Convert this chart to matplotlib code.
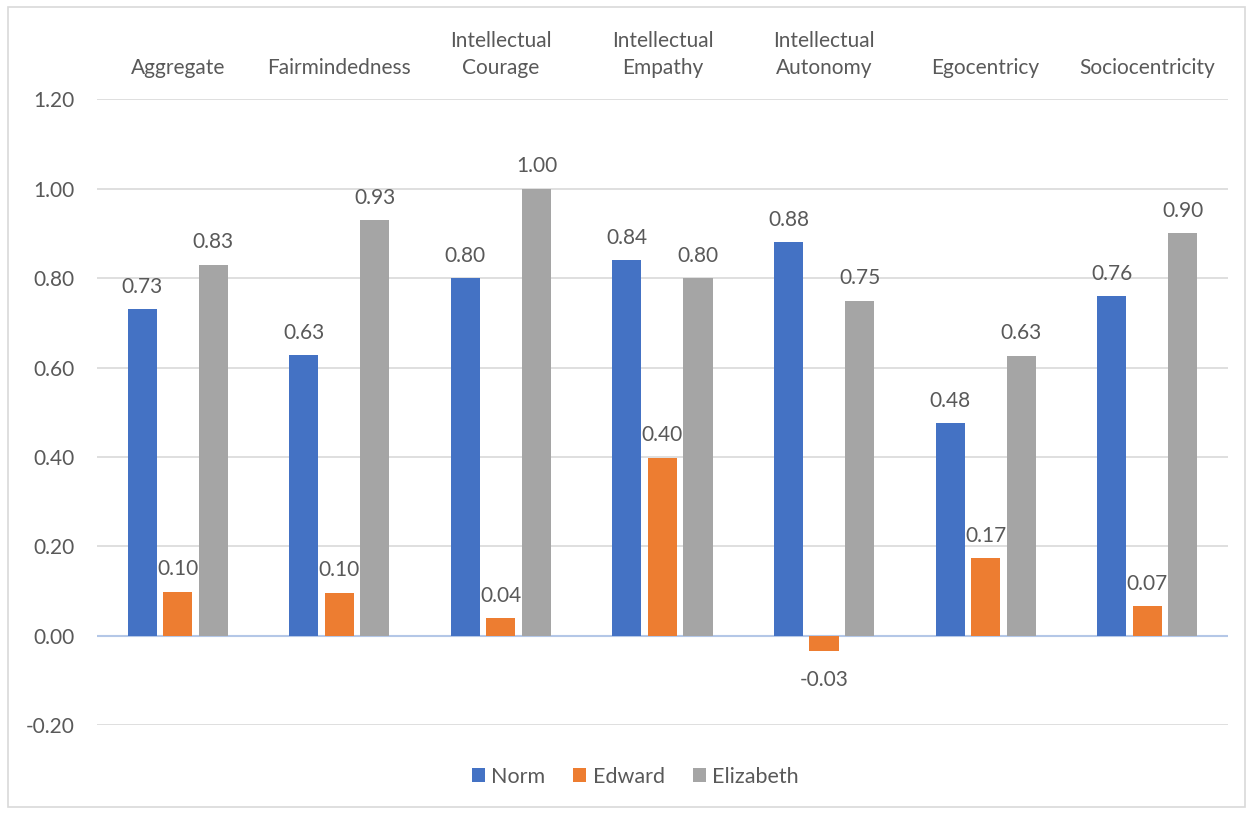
import matplotlib.pyplot as plt
from matplotlib.patches import Rectangle
import numpy as np

plt.rcParams['font.family'] = ['Lato', 'DejaVu Sans']

# data
categories = ['Aggregate', 'Fairmindedness', 'Intellectual\nCourage', 'Intellectual\nEmpathy',
              'Intellectual\nAutonomy', 'Egocentricy', 'Sociocentricity']
norm = [0.73, 0.628, 0.80, 0.84, 0.88, 0.476, 0.76]
edward = [0.099, 0.096, 0.039, 0.398, -0.034, 0.174, 0.066]
elizabeth = [0.83, 0.93, 1.00, 0.80, 0.75, 0.626, 0.90]
series_names = ['Norm', 'Edward', 'Elizabeth']
colors = ['#4472C4', '#ED7D31', '#A5A5A5']
yticks = [-0.2, 0.0, 0.2, 0.4, 0.6, 0.8, 1.0, 1.2]

text_col = '#595959'
fs = 15

fig = plt.figure(figsize=(12.53, 8.14), dpi=100)
ax = fig.add_axes([0.0774, 0.109, 0.9026, 0.769])

# outer chart frame like excel
fig.patches.append(Rectangle((0.006, 0.009), 0.988, 0.982, transform=fig.transFigure,
                             fill=False, edgecolor='#D9D9D9', linewidth=1.2))

x = np.arange(len(categories))
width = 0.18
step = 0.22
for i, (vals, name, col) in enumerate(zip([norm, edward, elizabeth], series_names, colors)):
    pos = x + (i - 1) * step
    bars = ax.bar(pos, vals, width, color=col, label=name, zorder=3)
    for b, v in zip(bars, vals):
        off = 9 if v >= 0 else -14
        ax.annotate(f'{v:.2f}', (b.get_x() + b.get_width() / 2, v), xytext=(0, off),
                    textcoords='offset points', ha='center',
                    va='bottom' if v >= 0 else 'top', fontsize=fs, color=text_col, zorder=4)

ax.set_xlim(-0.5, len(categories) - 0.5)
ax.set_ylim(-0.2, 1.2)
ax.set_yticks(yticks)
ax.set_yticklabels([f'{t:.2f}' for t in yticks], fontsize=fs, color=text_col)
ax.yaxis.grid(True, color='#D9D9D9', linewidth=1.2, zorder=0)
ax.axhline(0, color='#B4C7E7', linewidth=1.5, zorder=2)
ax.tick_params(axis='y', length=0, pad=16)

ax.set_xticks(x)
ax.set_xticklabels(categories, fontsize=fs, color=text_col, linespacing=1.45)
ax.xaxis.tick_top()
ax.tick_params(axis='x', length=0, pad=15)

for s in ax.spines.values():
    s.set_visible(False)

leg = fig.legend(loc='center', bbox_to_anchor=(0.507, 0.046), ncol=3, frameon=False,
                 fontsize=15.5, handlelength=0.6, handleheight=0.6, columnspacing=1.3,
                 handletextpad=0.3)
for t in leg.get_texts():
    t.set_color(text_col)

fig.savefig('out.png', dpi=100)
